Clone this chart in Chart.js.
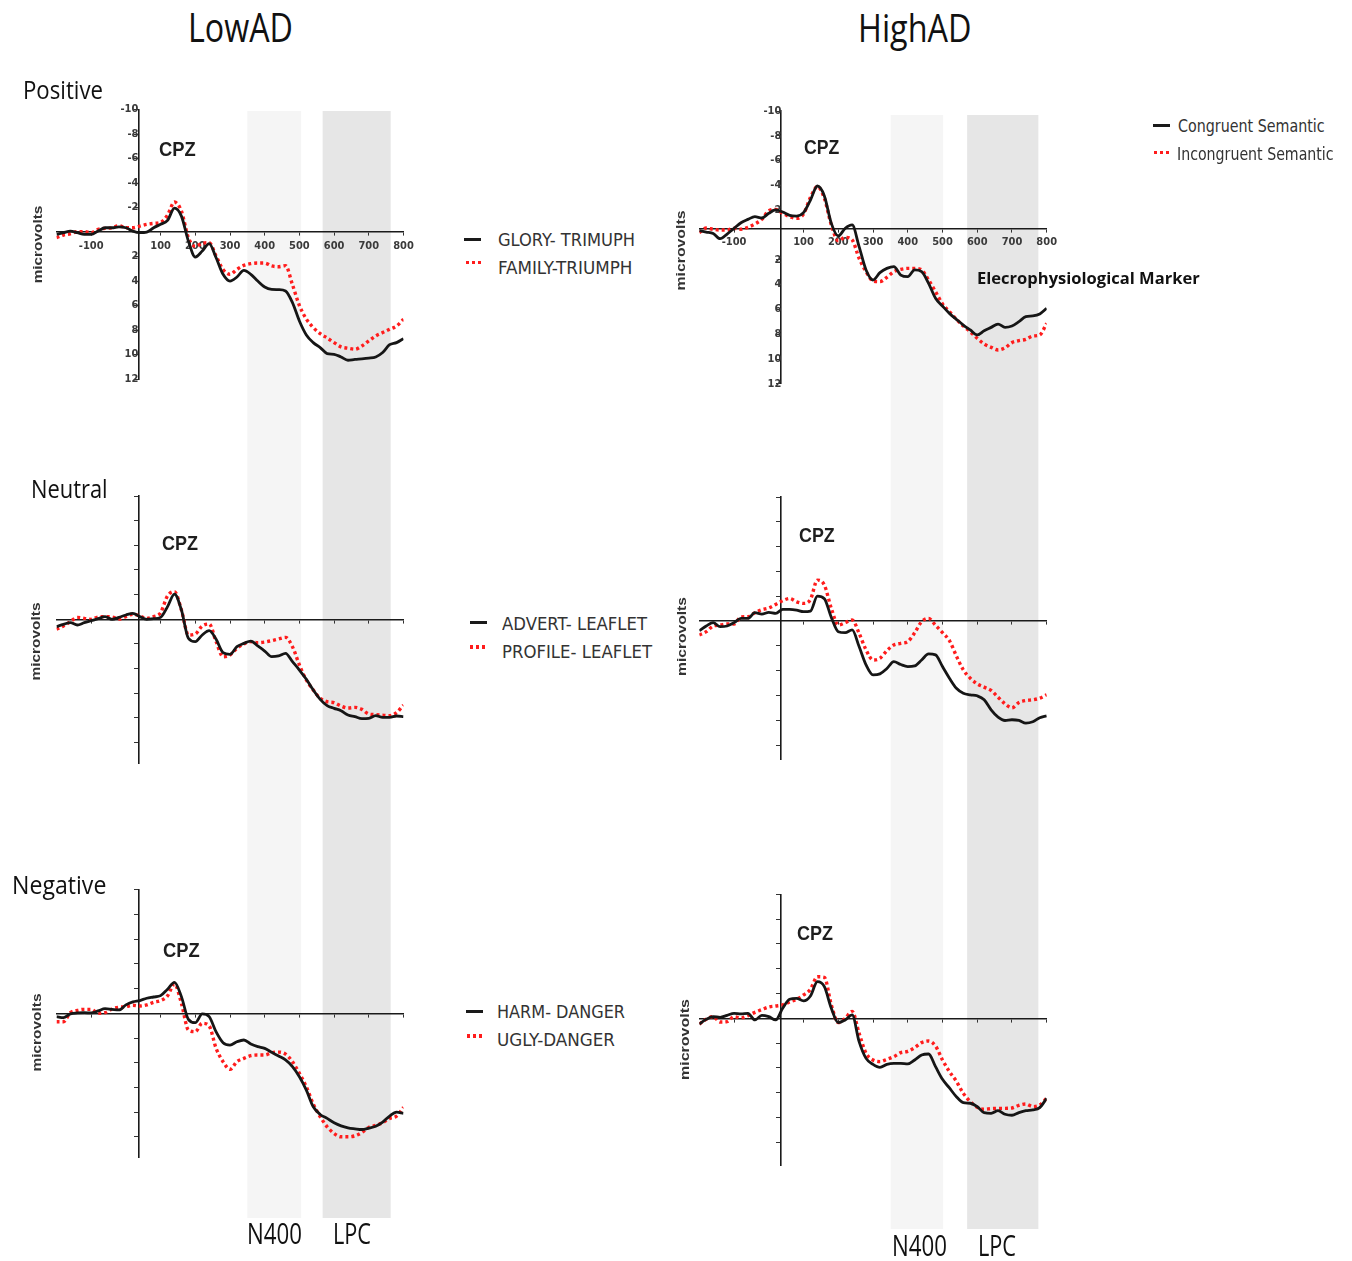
<!DOCTYPE html>
<html>
<head>
<meta charset="utf-8">
<title>CPZ ERP - LowAD / HighAD</title>
<script src="https://cdn.jsdelivr.net/npm/chart.js@4.4.1/dist/chart.umd.min.js"></script>
<style>
  body { margin: 0; background: #fff; }
  #stage { position: relative; width: 1352px; height: 1261px; overflow: hidden; background: #fff; }
  #stage canvas { position: absolute; }
  .lbl { position: absolute; white-space: nowrap; line-height: 1; transform-origin: 0 0; color: #111; z-index: 2; }
  .base { display: inline-block; width: 0; height: 0; }
  .key { position: absolute; z-index: 2; }
</style>
</head>
<body>
<div id="stage"></div>
<script>
// tiempos (ms) comunes a todas las curvas
const times = [-200, -180, -160, -140, -120, -100, -80, -60, -40, -20, 0, 20, 40, 60, 80, 100, 120, 140, 160, 180,
  200, 220, 240, 260, 280, 300, 320, 340, 360, 380, 400, 420, 440, 460, 480, 500, 520, 540, 560, 580,
  600, 620, 640, 660, 680, 700, 720, 740, 760, 780, 800];

// microvoltios en CPZ, congruente (negro) / incongruente (rojo)
const posLowCong = [0.19, 0.05, -0.08, 0.05, 0.19, 0.19, -0.08, -0.35, -0.35, -0.43, -0.35, -0.08, 0.05, 0, -0.35, -0.63, -0.95, -1.95, -1.3, 0.73,
  2.04, 1.55, 0.95, 2.1, 3.45, 4.0, 3.67, 3.13, 3.45, 4.0, 4.49, 4.68, 4.7, 4.81, 5.76, 7.26, 8.4, 9.03, 9.43, 9.92,
  9.98, 10.2, 10.47, 10.4, 10.36, 10.3, 10.2, 9.84, 9.2, 9.03, 8.7];
const posLowIncong = [0.46, 0.24, 0.14, -0.03, -0.03, 0.05, -0.22, -0.3, -0.35, -0.52, -0.35, -0.35, -0.49, -0.63, -0.71, -0.79, -1.39, -2.45, -1.7, 0.46,
  1.17, 0.92, 0.87, 1.96, 3.05, 3.45, 3.05, 2.72, 2.58, 2.53, 2.53, 2.77, 2.83, 2.75, 4.3, 6.0, 7.1, 7.8, 8.3, 8.65,
  9.03, 9.38, 9.49, 9.57, 9.3, 8.89, 8.48, 8.21, 7.94, 7.67, 7.12];
const posHighCong = [-0.35, -0.24, -0.13, 0.3, -0.08, -0.54, -0.99, -1.26, -1.48, -1.37, -1.75, -2.02, -1.85, -1.59, -1.53, -1.8, -2.82, -3.95, -3.15, -0.94,
  0.08, -0.54, -0.81, 0.94, 2.82, 3.63, 3.04, 2.69, 2.55, 3.23, 3.36, 2.82, 2.96, 3.9, 5.1, 5.73, 6.32, 6.8, 7.26, 7.66,
  8.06, 7.72, 7.45, 7.18, 7.45, 7.34, 6.99, 6.59, 6.53, 6.37, 5.91];
const posHighIncong = [-0.19, -0.56, -0.46, -0.4, -0.4, -0.54, -0.46, -0.62, -0.89, -1.26, -1.96, -2.07, -1.75, -1.48, -1.34, -1.69, -3.04, -3.9, -2.96, -0.81,
  0.46, 0.19, 0.4, 1.88, 2.96, 3.71, 3.76, 3.41, 2.96, 2.77, 2.69, 2.69, 2.82, 3.63, 4.57, 5.56, 6.18, 6.8, 7.34, 7.8,
  8.33, 8.79, 9.06, 9.27, 9.1, 8.68, 8.52, 8.41, 8.15, 8.06, 7.12];
const neuLowCong = [0.59, 0.41, 0.27, 0.46, 0.27, 0.11, -0.05, -0.22, 0, -0.16, -0.35, -0.49, -0.22, 0, -0.05, -0.16, -1.03, -2.05, -0.76, 1.54,
  1.81, 1.27, 0.92, 1.62, 2.7, 2.84, 2.22, 1.95, 1.76, 2.16, 2.57, 3.03, 2.97, 2.76, 3.43, 4.11, 4.86, 5.73, 6.49, 7.0,
  7.22, 7.41, 7.76, 7.89, 8.05, 8.03, 7.81, 7.95, 7.95, 7.84, 7.89];
const neuLowIncong = [0.81, 0.54, 0.19, -0.16, -0.08, 0, -0.19, -0.22, -0.19, -0.03, -0.22, -0.41, -0.27, -0.08, -0.22, -0.54, -1.9, -2.25, -0.76, 1.27,
  1.19, 0.54, 0.38, 1.81, 3.03, 2.89, 2.35, 2.0, 1.81, 1.89, 1.84, 1.73, 1.59, 1.46, 2.22, 3.7, 4.92, 5.73, 6.41, 6.68,
  6.76, 7.03, 7.19, 7.14, 7.3, 7.68, 7.73, 7.78, 7.81, 7.57, 6.95];
const neuHighCong = [0.78, 0.4, 0.13, 0.46, 0.4, 0.13, -0.21, -0.21, -0.67, -0.56, -0.7, -0.62, -0.94, -0.94, -0.88, -0.75, -0.8, -2.0, -1.8, -0.29,
  0.86, 0.94, 0.72, 2.06, 3.54, 4.34, 4.26, 3.83, 3.27, 3.51, 3.67, 3.62, 3.14, 2.65, 2.73, 3.67, 4.61, 5.42, 5.82, 5.95,
  6.03, 6.35, 7.16, 7.75, 8.02, 7.96, 8.02, 8.23, 8.12, 7.8, 7.64];
const neuHighIncong = [1.13, 0.86, 0.4, 0.32, 0.24, 0.24, -0.32, -0.35, -0.67, -0.91, -1.05, -1.34, -1.64, -1.82, -1.55, -1.42, -1.74, -3.3, -2.9, -1.02,
  0.32, 0.13, -0.08, 0.99, 2.33, 3.14, 3.0, 2.39, 1.93, 1.8, 1.66, 0.95, 0.05, -0.21, 0.35, 0.94, 1.58, 2.82, 3.94, 4.61,
  5.07, 5.33, 5.6, 6.14, 6.68, 7.0, 6.57, 6.41, 6.35, 6.22, 5.95];
const negLowCong = [0.27, 0.35, 0.05, -0.03, -0.05, -0.03, -0.19, -0.38, -0.32, -0.27, -0.68, -0.92, -1.03, -1.22, -1.32, -1.43, -1.95, -2.51, -1.35, 0.49,
  0.76, 0.05, 0.27, 1.51, 2.38, 2.57, 2.3, 2.16, 2.49, 2.7, 2.84, 3.16, 3.46, 3.78, 4.32, 5.14, 6.22, 7.57, 8.19, 8.51,
  8.86, 9.11, 9.27, 9.35, 9.41, 9.3, 9.14, 8.81, 8.32, 8.0, 8.11];
const negLowIncong = [0.68, 0.68, -0.05, -0.24, -0.32, -0.32, 0, -0.05, -0.35, -0.49, -0.54, -0.65, -0.59, -0.68, -0.89, -1.03, -1.41, -2.38, -0.81, 1.35,
  1.49, 0.81, 1.03, 2.84, 3.92, 4.54, 3.92, 3.65, 3.43, 3.38, 3.38, 3.19, 3.14, 3.3, 3.92, 4.86, 5.95, 7.35, 8.38, 9.19,
  9.73, 10.0, 10.0, 9.92, 9.65, 9.24, 9.08, 8.86, 8.51, 8.32, 7.62];
const negHighCong = [0.46, 0.08, -0.13, -0.08, -0.24, -0.4, -0.35, -0.4, 0.13, -0.24, -0.13, 0.13, -0.81, -1.53, -1.61, -1.4, -1.8, -2.95, -2.55, -0.81,
  0.35, 0.13, -0.27, 1.88, 3.23, 3.71, 3.95, 3.71, 3.63, 3.63, 3.68, 3.36, 2.96, 2.88, 3.9, 4.92, 5.62, 6.32, 6.8, 6.85,
  7.12, 7.61, 7.66, 7.45, 7.74, 7.82, 7.61, 7.45, 7.39, 7.2, 6.45];
const negHighIncong = [0.46, 0.08, -0.13, 0.3, 0.27, -0.13, -0.03, -0.22, -0.48, -0.7, -0.91, -0.99, -1.08, -1.32, -1.53, -1.88, -2.34, -3.35, -3.3, -1.08,
  0.35, 0, -0.56, 1.21, 2.82, 3.36, 3.49, 3.31, 3.09, 2.77, 2.66, 2.37, 1.96, 1.83, 2.23, 3.36, 4.3, 5.08, 6.05, 6.72,
  7.18, 7.34, 7.28, 7.26, 7.26, 7.23, 7.02, 6.91, 7.12, 6.99, 6.45];

// marcas de los ejes
const xTicks = [-100, 100, 200, 300, 400, 500, 600, 700, 800];
const yTicks = [-10, -8, -6, -4, -2, 2, 4, 6, 8, 10, 12];

// ventanas N400 y LPC (ms)
const n400Low = [350, 505];
const lpcLow = [567, 763];
const n400High = [351, 502];
const lpcHigh = [571, 776];

const stage = document.getElementById('stage');
const tickFont = { family: '"Liberation Sans Narrow", "DejaVu Sans Condensed", sans-serif', size: 11, weight: 'bold' };

// sombreado de las ventanas, por detras de ejes y curvas
const bandPlugin = {
  id: 'erpBands',
  beforeDraw(chart, args, opts) {
    const ctx = chart.ctx;
    const x = chart.scales.x;
    const top = Math.max(opts.top, 0);
    const bottom = Math.min(opts.bottom, chart.height);
    ctx.save();
    opts.bands.forEach(b => {
      const x0 = x.getPixelForValue(b.range[0]);
      const x1 = x.getPixelForValue(b.range[1]);
      ctx.fillStyle = b.color;
      ctx.fillRect(x0, top, x1 - x0, bottom - top);
    });
    ctx.restore();
  }
};

const lowCol = { left: 0, padL: 56.5, padR: 16.5, bandTop: 111, bandBottom: 1218, n400: n400Low, lpc: lpcLow };
const highCol = { left: 660, padL: 39.3, padR: 33.3, bandTop: 115, bandBottom: 1229, n400: n400High, lpc: lpcHigh };

const panels = [
  { col: lowCol, cong: posLowCong, incong: posLowIncong, top: 100, height: 350, padT: 9.3, padB: 71, yMax: 12, axisAt: 0, labels: true },
  { col: lowCol, cong: neuLowCong, incong: neuLowIncong, top: 450, height: 380, padT: 46, padB: 67, yMax: 11.65, axisAt: 0, labels: false },
  { col: lowCol, cong: negLowCong, incong: negLowIncong, top: 830, height: 410, padT: 59.8, padB: 82.2, yMax: 11.7, axisAt: 0, labels: false },
  { col: highCol, cong: posHighCong, incong: posHighIncong, top: 100, height: 350, padT: 11, padB: 66.2, yMax: 12, axisAt: -0.5, labels: true },
  { col: highCol, cong: neuHighCong, incong: neuHighIncong, top: 450, height: 380, padT: 47, padB: 70.7, yMax: 11.15, axisAt: 0, labels: false },
  { col: highCol, cong: negHighCong, incong: negHighIncong, top: 830, height: 410, padT: 64.3, padB: 75, yMax: 11.83, axisAt: 0, labels: false }
];

function toPoints(vals) {
  return times.map((t, i) => ({ x: t, y: vals[i] }));
}

panels.forEach(p => {
  const canvas = document.createElement('canvas');
  canvas.width = 420;
  canvas.height = p.height;
  canvas.style.left = p.col.left + 'px';
  canvas.style.top = p.top + 'px';
  stage.appendChild(canvas);

  new Chart(canvas, {
    type: 'line',
    data: {
      datasets: [
        { data: toPoints(p.cong), borderColor: '#161616', borderWidth: 2.8, pointRadius: 0, cubicInterpolationMode: 'monotone' },
        { data: toPoints(p.incong), borderColor: '#ff1c1c', borderWidth: 3.4, borderDash: [3, 3], pointRadius: 0, cubicInterpolationMode: 'monotone' }
      ]
    },
    options: {
      responsive: false,
      animation: false,
      events: [],
      layout: { padding: { left: p.col.padL, right: p.col.padR, top: p.padT, bottom: p.padB } },
      plugins: {
        legend: { display: false },
        tooltip: { enabled: false },
        erpBands: {
          top: p.col.bandTop - p.top,
          bottom: p.col.bandBottom - p.top,
          bands: [
            { range: p.col.n400, color: '#f5f5f5' },
            { range: p.col.lpc, color: '#e6e6e6' }
          ]
        }
      },
      scales: {
        x: {
          type: 'linear', min: -200, max: 800,
          position: { y: p.axisAt },
          afterBuildTicks: s => { s.ticks = xTicks.map(v => ({ value: v })); },
          ticks: { display: p.labels, font: tickFont, color: '#3a3a3a', padding: 4, autoSkip: false, maxRotation: 0 },
          grid: { drawOnChartArea: false, drawTicks: true, tickLength: 3, color: '#333', lineWidth: 1 },
          border: { display: true, color: '#1a1a1a', width: 1.6 }
        },
        y: {
          type: 'linear', min: -10, max: p.yMax, reverse: true,
          position: { x: 36 },
          afterBuildTicks: s => { s.ticks = yTicks.filter(v => v <= p.yMax).map(v => ({ value: v })); },
          ticks: { display: p.labels, font: tickFont, color: '#3a3a3a', autoSkip: false },
          grid: { drawOnChartArea: false, drawTicks: true, tickLength: 4, color: '#333', lineWidth: 1 },
          border: { display: true, color: '#1a1a1a', width: 1.6 }
        }
      }
    },
    plugins: [bandPlugin]
  });
});

// textos: izquierda, linea base, fuente y ancho final
function addText(txt, x, base, font, width, color) {
  const el = document.createElement('div');
  el.className = 'lbl';
  el.style.font = font;
  if (color) el.style.color = color;
  el.textContent = txt;
  const mark = document.createElement('span');
  mark.className = 'base';
  el.appendChild(mark);
  stage.appendChild(el);
  const b = mark.offsetTop;
  const w = el.getBoundingClientRect().width;
  el.style.left = x + 'px';
  el.style.top = (base - b) + 'px';
  el.style.transform = 'scaleX(' + (width / w) + ')';
}

function addVertical(txt, cx, cy, font, len, color) {
  const el = document.createElement('div');
  el.className = 'lbl';
  el.style.font = font;
  el.style.color = color;
  el.textContent = txt;
  stage.appendChild(el);
  const r = el.getBoundingClientRect();
  el.style.left = (cx - r.width / 2) + 'px';
  el.style.top = (cy - r.height / 2) + 'px';
  el.style.transformOrigin = '50% 50%';
  el.style.transform = 'rotate(-90deg) scaleX(' + (len / r.width) + ')';
}

function addKey(x, y, w, dotted) {
  const k = document.createElement('div');
  k.className = 'key';
  k.style.left = x + 'px';
  k.style.width = w + 'px';
  if (dotted) {
    k.style.top = (y - 1.75) + 'px';
    k.style.height = '3.5px';
    k.style.background = 'repeating-linear-gradient(90deg, #ff1c1c 0 3px, transparent 3px 6px)';
  } else {
    k.style.top = (y - 1.5) + 'px';
    k.style.height = '3px';
    k.style.background = '#1a1a1a';
  }
  stage.appendChild(k);
}

const sans = '"Open Sans", "Noto Sans", sans-serif';
const arialB = 'bold 20px "Liberation Sans", Arial, sans-serif';
const narrow = '17px "Liberation Sans Narrow", "DejaVu Sans Condensed", sans-serif';

document.fonts.ready.then(() => {
  addText('LowAD', 188, 41.7, '40px ' + sans, 105);
  addText('HighAD', 858, 41.7, '38px ' + sans, 113.5);
  addText('Positive', 22.7, 99, '26px ' + sans, 80);
  addText('Neutral', 30.7, 498.3, '26px ' + sans, 76.6);
  addText('Negative', 12.3, 894, '26px ' + sans, 94.4);

  addText('N400', 247, 1244, '30px ' + sans, 55);
  addText('LPC', 333, 1244, '30px ' + sans, 38);
  addText('N400', 892, 1256, '30px ' + sans, 55);
  addText('LPC', 978, 1256, '30px ' + sans, 38);

  [[159.3, 155.7, 36.7], [804, 154, 35.3], [161.7, 550, 36], [799.3, 541.7, 35.7], [163.3, 957.3, 36.7], [797.3, 940, 36]]
    .forEach(c => addText('CPZ', c[0], c[1], arialB, c[2], '#1e1e1e'));

  [[38, 244, 77.7], [681, 250, 80], [36, 641, 78], [682, 636, 79], [36.5, 1032.5, 78], [685, 1039, 81]]
    .forEach(m => addVertical('microvolts', m[0], m[1], 'bold 13px "Liberation Sans", Arial, sans-serif', m[2], '#333'));

  addText('Elecrophysiological Marker', 977.3, 284, 'bold 16.5px ' + sans, 222.7, '#111');

  // leyendas
  addKey(464, 239.3, 17, false);
  addText('GLORY- TRIMUPH', 498.3, 246, narrow, 137, '#333');
  addKey(466, 262.7, 17, true);
  addText('FAMILY-TRIUMPH', 498.3, 274.3, narrow, 134.4, '#333');

  addKey(470, 622, 17, false);
  addText('ADVERT- LEAFLET', 502, 629.5, narrow, 145, '#333');
  addKey(470, 647, 17, true);
  addText('PROFILE- LEAFLET', 502, 657.5, narrow, 150, '#333');

  addKey(466, 1011, 17, false);
  addText('HARM- DANGER', 497, 1018, narrow, 128, '#333');
  addKey(467, 1036, 17, true);
  addText('UGLY-DANGER', 497, 1046, narrow, 118, '#333');

  addKey(1153.3, 125, 16.7, false);
  addText('Congruent Semantic', 1177.7, 131.7, narrow, 146.6, '#333');
  addKey(1154, 152.7, 16, true);
  addText('Incongruent Semantic', 1176.7, 160, narrow, 156.6, '#333');
});
</script>
</body>
</html>
